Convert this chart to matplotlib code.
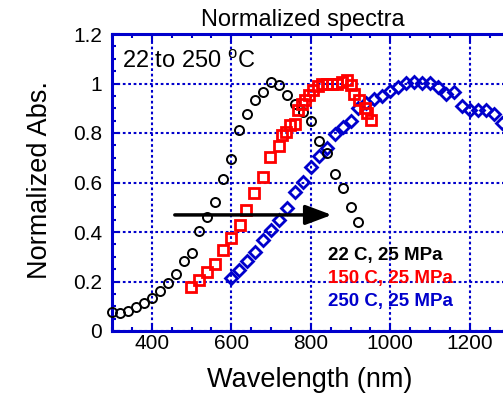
import matplotlib
matplotlib.use("Agg")
import matplotlib.pyplot as plt
from matplotlib.ticker import MultipleLocator, FuncFormatter

plt.rcParams['font.family'] = ['Liberation Sans', 'DejaVu Sans']

# ---- data ----
wl_22 = [300, 320, 340, 360, 380, 400, 420, 440, 460, 480, 500, 520, 540, 560, 580, 600,
         620, 640, 660, 680, 700, 720, 740, 760, 780, 800, 820, 840, 860, 880, 900, 920]
abs_22 = [0.076, 0.072, 0.082, 0.096, 0.112, 0.132, 0.163, 0.195, 0.230, 0.282, 0.316, 0.403,
          0.459, 0.521, 0.615, 0.694, 0.811, 0.878, 0.932, 0.964, 1.007, 0.994, 0.953, 0.917,
          0.885, 0.848, 0.769, 0.720, 0.633, 0.578, 0.502, 0.442]

wl_150 = [499, 519, 539, 560, 579, 600, 621, 638, 658, 679, 698, 719, 727, 737, 748, 760,
          767, 777, 786, 796, 806, 818, 828, 840, 853, 865, 878, 890, 901, 910, 922, 937,
          941, 952]
abs_150 = [0.176, 0.208, 0.238, 0.269, 0.326, 0.377, 0.428, 0.488, 0.556, 0.622, 0.702, 0.747,
           0.791, 0.805, 0.832, 0.838, 0.892, 0.919, 0.935, 0.953, 0.973, 0.989, 0.997, 1.000,
           1.000, 1.000, 1.006, 1.013, 0.993, 0.957, 0.933, 0.903, 0.879, 0.852]

wl_250 = [600, 620, 640, 660, 680, 700, 720, 740, 760, 780, 800, 820, 840, 860, 880, 900,
          920, 940, 960, 980, 1000, 1020, 1040, 1060, 1080, 1100, 1120, 1140, 1160, 1180,
          1200, 1220, 1240, 1260, 1280]
abs_250 = [0.214, 0.248, 0.283, 0.319, 0.366, 0.410, 0.449, 0.495, 0.562, 0.604, 0.664, 0.706,
           0.741, 0.795, 0.826, 0.850, 0.902, 0.922, 0.937, 0.951, 0.969, 0.987, 1.002, 1.006,
           1.001, 1.001, 0.986, 0.959, 0.964, 0.910, 0.893, 0.892, 0.892, 0.876, 0.840]

series_labels = ["22 C, 25 MPa", "150 C, 25 MPa", "250 C, 25 MPa"]
x_ticks = [400, 600, 800, 1000, 1200]
y_ticks = [0, 0.2, 0.4, 0.6, 0.8, 1.0, 1.2]

BLUE = '#0000cc'
RED = '#ff0000'

fig = plt.figure(figsize=(5.03, 3.94), dpi=100)
ax = fig.add_axes([112/503, 63/394, 397.5/503, 297/394])
ax.set_xlim(300, 1300)
ax.set_ylim(0, 1.2)

ax.set_xticks(x_ticks)
ax.set_yticks(y_ticks)
ax.xaxis.set_minor_locator(MultipleLocator(50))
ax.yaxis.set_minor_locator(MultipleLocator(0.05))
ax.yaxis.set_major_formatter(FuncFormatter(lambda v, p: '%g' % v))

ax.grid(True, which='major', color=BLUE, linestyle=(0, (1.3, 1.3)), linewidth=1.5)
ax.set_axisbelow(True)
for s in ax.spines.values():
    s.set_color(BLUE)
    s.set_linewidth(2.2)
ax.tick_params(which='both', direction='in', top=True, right=True, color=BLUE,
               labelcolor='black', labelsize=15)
ax.tick_params(which='major', length=5.5, width=1.5)
ax.tick_params(which='minor', length=3, width=1.5)
ax.tick_params(axis='x', pad=2)
ax.tick_params(axis='y', pad=7)

ax.plot(wl_250, abs_250, linestyle='none', marker='D', markersize=6.2, markerfacecolor='none',
        markeredgecolor=BLUE, markeredgewidth=2, clip_on=False, zorder=3)
ax.plot(wl_22, abs_22, linestyle='none', marker='o', markersize=6.5, markerfacecolor='none',
        markeredgecolor='black', markeredgewidth=1.4, clip_on=False, zorder=4)
ax.plot(wl_150, abs_150, linestyle='none', marker='s', markersize=6.8, markerfacecolor='none',
        markeredgecolor=RED, markeredgewidth=2, clip_on=False, zorder=5)

ax.annotate('', xy=(853, 0.469), xytext=(458, 0.469),
            arrowprops=dict(arrowstyle='-|>,head_length=0.8,head_width=0.3',
                            mutation_scale=20, lw=2.5, color='black',
                            shrinkA=0, shrinkB=0), zorder=6)

ax.text(0.025, 0.8845, r'22 to 250 $^{\mathregular{o}}$C', transform=ax.transAxes,
        fontsize=17, va='baseline', ha='left', color='black')

for lab, col, yb in zip(series_labels, ['black', RED, BLUE], [0.239, 0.1606, 0.0852]):
    ax.text(0.5434, yb, lab, transform=ax.transAxes, fontsize=13.5, fontweight='bold',
            color=col, va='baseline', ha='left')

fig.text(303/503, (394-26)/394, 'Normalized spectra', fontsize=17, ha='center', va='baseline')
fig.text(310/503, 7/394, 'Wavelength (nm)', fontsize=19.5, ha='center', va='baseline')
fig.text(40/503, 180/394 * 0 + 214/394, 'Normalized Abs.', fontsize=19.5, ha='center',
         va='center', rotation=90)

fig.savefig('out.png', dpi=100)
